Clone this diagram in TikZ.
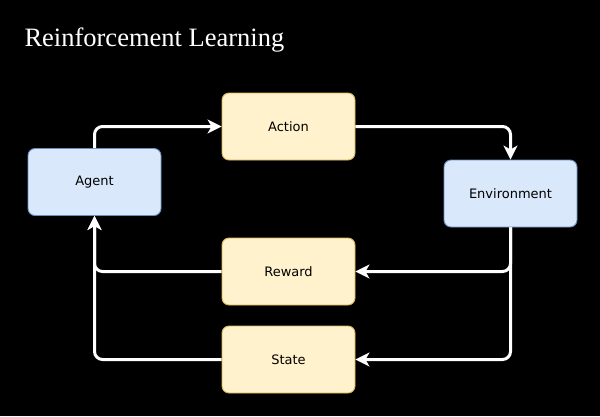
\documentclass[tikz,border=0pt]{standalone}
\usepackage{fontspec}
\setmainfont{Liberation Serif}
\newfontfamily\boxfont{DejaVu Sans}
\usetikzlibrary{arrows.meta,positioning}
\definecolor{agentfill}{HTML}{DAE8FC}
\definecolor{agentline}{HTML}{6C8EBF}
\definecolor{signalfill}{HTML}{FFF2CC}
\definecolor{signalline}{HTML}{D6B656}

\tikzset{
  block/.style={draw, rounded corners=7pt, line width=0.9pt,
    minimum width=133pt, minimum height=67pt, font=\boxfont\fontsize{13}{15}\selectfont},
  agentbox/.style={block, fill=agentfill, draw=agentline},
  signalbox/.style={block, fill=signalfill, draw=signalline},
  flow/.style={draw=white, line width=3pt, rounded corners=8pt,
    -{Stealth[length=14pt,width=14pt,inset=4pt]}}
}

\begin{document}
\begin{tikzpicture}[x=1pt,y=-1pt]
  \fill[black] (0,0) rectangle (600,416);
  \useasboundingbox (0,0) rectangle (600,416);

  \node[anchor=west, text=white, font=\fontsize{26.5}{30}\selectfont] (title) at (21,40) {Reinforcement Learning};

  \node[agentbox] (agent) at (94.5,182) {Agent};
  \node[signalbox] (action) at (288.5,126.5) {Action};
  \node[agentbox] (env) at (510.5,193.5) {Environment};
  \node[signalbox] (reward) at (288.5,271.5) {Reward};
  \node[signalbox] (state) at (288.5,359.5) {State};

  % loop: agent -> action -> environment
  \draw[flow] (agent.north) |- (action.west);
  \draw[flow] (action.east) -| (env.north);
  % feedback: environment -> reward/state -> agent
  \draw[flow] (env.south) |- (reward.east);
  \draw[flow] (env.south) |- (state.east);
  \draw[flow] (reward.west) -| (agent.south);
  \draw[flow] (state.west) -| (agent.south);
\end{tikzpicture}
\end{document}
